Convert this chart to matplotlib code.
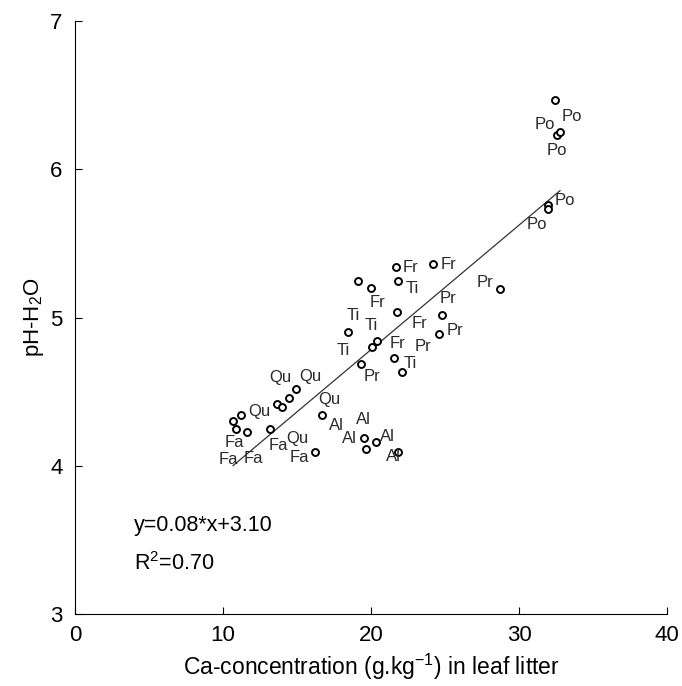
import numpy as np
import matplotlib
matplotlib.use("Agg")
import matplotlib.pyplot as plt

plt.rcParams['font.family'] = ['Liberation Sans', 'DejaVu Sans']
plt.rcParams['mathtext.default'] = 'regular'

# Ca-concentration (g/kg) en pH-H2O per boomsoort
po_x = [32.43, 32.57, 32.77, 31.96, 31.96]
po_y = [6.47, 6.23, 6.25, 5.76, 5.73]
fr_x = [21.69, 24.19, 20.00, 21.76, 20.41]
fr_y = [5.34, 5.36, 5.20, 5.04, 4.84]
ti_x = [21.82, 19.12, 20.07, 18.45, 22.09]
ti_y = [5.25, 5.25, 4.80, 4.90, 4.63]
pr_x = [28.72, 24.80, 24.59, 21.55, 19.32]
pr_y = [5.19, 5.02, 4.89, 4.73, 4.69]
qu_x = [11.22, 14.93, 14.46, 13.65, 13.99]
qu_y = [4.34, 4.52, 4.46, 4.42, 4.40]
fa_x = [10.68, 10.88, 11.62, 13.18, 16.22]
fa_y = [4.30, 4.25, 4.23, 4.25, 4.09]
al_x = [16.69, 19.53, 20.34, 19.66, 21.82]
al_y = [4.34, 4.19, 4.16, 4.11, 4.09]

# regressie
slope = 0.084
intercept = 3.104
r2 = 0.70

# plaats van de labels t.o.v. de punten (pixels)
offsets = {
    'Po': [(17, -17), (-12, 11), (-3, -18), (17, 5), (-11, -15)],
    'Fr': [(14, 0), (15, 0), (6, -15), (22, -12), (20, -2)],
    'Ti': [(14, -8), (-5, -35), (-1, 22), (-5, -18), (8, 9)],
    'Pr': [(-15, 7), (6, 16), (16, 3), (29, 11), (11, -13)],
    'Qu': [(18, 4), (14, 12), (-9, 20), (20, -35), (47, 7)],
    'Fa': [(1, -21), (-8, -31), (6, -27), (8, -17), (-16, -5)],
    'Al': [(14, -10), (-1, 18), (11, 6), (-17, 11), (-5, -4)],
}

groups = [('Po', po_x, po_y), ('Fr', fr_x, fr_y), ('Ti', ti_x, ti_y),
          ('Pr', pr_x, pr_y), ('Qu', qu_x, qu_y), ('Fa', fa_x, fa_y),
          ('Al', al_x, al_y)]

fig = plt.figure(figsize=(6.82, 6.86), dpi=100)
ax = fig.add_axes([0.110, 0.105, 0.868, 0.864])

all_x = []
for name, xs, ys in groups:
    ax.plot(xs, ys, 'o', markersize=5, markerfacecolor='white',
            markeredgecolor='black', markeredgewidth=1.4, zorder=3)
    for x, y, off in zip(xs, ys, offsets[name]):
        ax.annotate(name, (x, y), xytext=off, textcoords='offset pixels',
                    ha='center', va='center', fontsize=12, color='#2a2a2a')
    all_x.extend(xs)

xl = np.array([min(all_x), max(all_x)])
ax.plot(xl, slope * xl + intercept, color='#333333', linewidth=0.9, zorder=2)

ax.text(4.0, 3.60, 'y=%.2f*x+%.2f' % (slope, intercept), fontsize=15.5,
        va='center')
ax.text(4.0, 3.34, 'R$^{2}$=%.2f' % r2, fontsize=15.5, va='center')

ax.set_xlim(0, 40)
ax.set_ylim(3, 7)
ax.set_xticks([0, 10, 20, 30, 40])
ax.set_yticks([3, 4, 5, 6, 7])
ax.spines['top'].set_visible(False)
ax.spines['right'].set_visible(False)
ax.tick_params(direction='in', length=5, labelsize=16)
ax.tick_params(axis='x', pad=8)
ax.tick_params(axis='y', pad=9)
ax.set_xlabel('Ca-concentration (g.kg$^{-1}$) in leaf litter', fontsize=16.5,
              labelpad=4)
ax.set_ylabel('pH-H$_{2}$O', fontsize=16, labelpad=3)

fig.savefig('out.png', dpi=100)
